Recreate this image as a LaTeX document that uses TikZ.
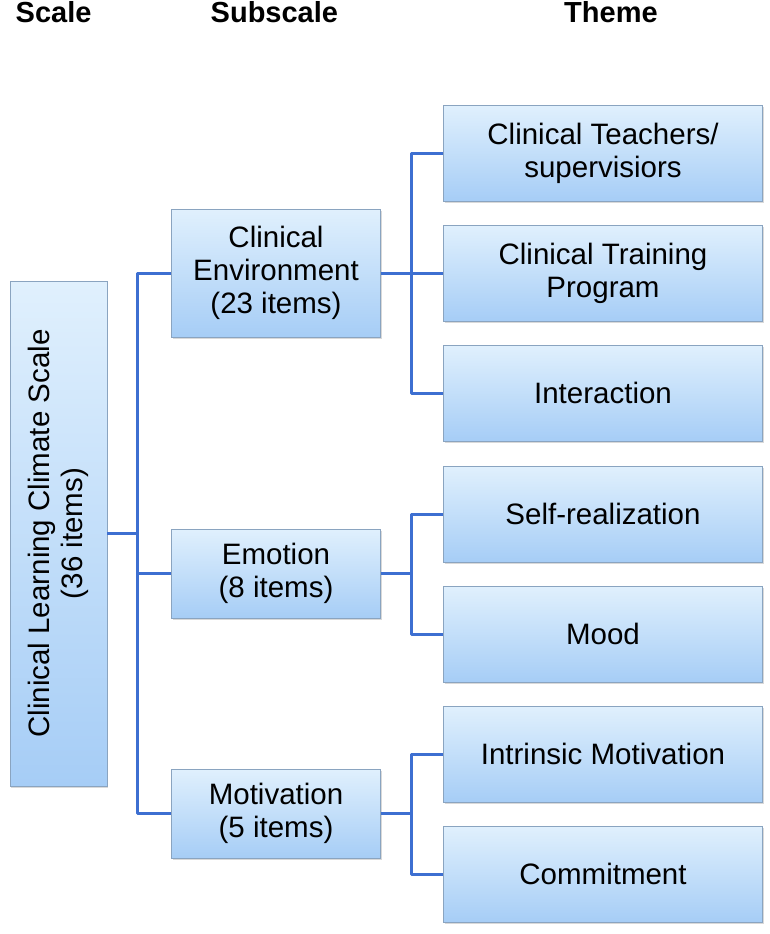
\documentclass[tikz,border=0pt]{standalone}
\usepackage{fontspec}
\setmainfont{Liberation Sans}
\usetikzlibrary{shadows}
\definecolor{conncol}{HTML}{3D6FD1}
\definecolor{boxtop}{HTML}{E0F0FD}
\definecolor{boxbot}{HTML}{A6CDF6}
\definecolor{boxline}{HTML}{8AA4C0}
\begin{document}
\begin{tikzpicture}[x=1pt,y=-1pt,
  box/.style={draw=boxline, line width=0.8pt, top color=boxtop, bottom color=boxbot,
    inner sep=0pt, align=center, font=\fontsize{29.5}{33}\selectfont,
    drop shadow={shadow xshift=1.2pt, shadow yshift=-2pt, opacity=0.25, fill=black!60}},
  subbox/.style={box, minimum width=209pt},
  thbox/.style={box, minimum width=319pt, minimum height=96pt},
  conn/.style={draw=conncol, line width=3pt, line join=round},
  hdr/.style={font=\fontsize{29}{33}\selectfont\bfseries, anchor=base west, inner sep=0pt}]
\useasboundingbox (0,0) rectangle (770,934);

% headers
\node[hdr] (hs) at (15.5,22.5) {Scale};
\node[hdr] (hss) at (210.5,22.5) {Subscale};
\node[hdr] (ht) at (564,22.5) {Theme};

% scale box
\node[box, minimum width=97pt, minimum height=505pt] (lb) at (58.5,533.5) {};
\node[rotate=90, align=center, inner sep=0pt, font=\fontsize{29.5}{33}\selectfont] (lbt) at (lb.center) {Clinical Learning Climate Scale\\(36 items)};

% subscale boxes
\node[subbox, minimum height=128pt] (ce) at (276,273) {Clinical\\Environment\\(23 items)};
\node[subbox, minimum height=89pt] (em) at (276,573.5) {Emotion\\(8 items)};
\node[subbox, minimum height=89pt] (mo) at (276,813.5) {Motivation\\(5 items)};

% theme boxes
\node[thbox] (t1) at (603,153) {Clinical Teachers/\\supervisiors};
\node[thbox] (t2) at (603,273) {Clinical Training\\Program};
\node[thbox] (t3) at (603,393) {Interaction};
\node[thbox] (t4) at (603,514) {Self-realization};
\node[thbox] (t5) at (603,634) {Mood};
\node[thbox] (t6) at (603,754) {Intrinsic Motivation};
\node[thbox] (t7) at (603,874) {Commitment};

% junctions
\coordinate (j1) at (137,533.5);
\coordinate (j2) at (411,273);
\coordinate (j3) at (411,573.5);
\coordinate (j4) at (411,813.5);

% connectors
\draw[conn] (lb.east) -- (j1);
\draw[conn] (ce.west) -| (j1) |- (mo.west);
\draw[conn] (j1 |- em.west) -- (em.west);

\draw[conn] (ce.east) -- (t2.west);
\draw[conn] (t1.west) -| (j2) |- (t3.west);

\draw[conn] (em.east) -- (j3);
\draw[conn] (t4.west) -| (j3) |- (t5.west);

\draw[conn] (mo.east) -- (j4);
\draw[conn] (t6.west) -| (j4) |- (t7.west);
\end{tikzpicture}
\end{document}
